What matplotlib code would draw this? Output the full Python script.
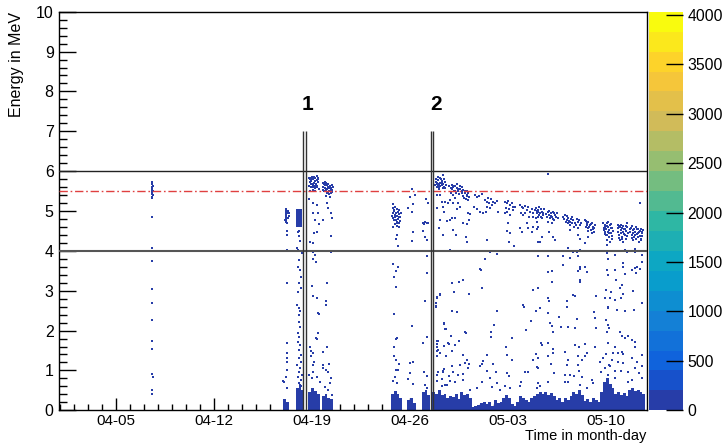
import matplotlib
matplotlib.use('Agg')
import matplotlib.pyplot as plt
import numpy as np
from matplotlib.colors import LinearSegmentedColormap, ListedColormap, BoundaryNorm
from matplotlib.ticker import MultipleLocator
import matplotlib.cm as cm

plt.rcParams['font.family'] = ['Liberation Sans', 'DejaVu Sans']

# time axis in days since 04-01 00:00
tick_days = [4, 11, 18, 25, 32, 39]
tick_labels = ['04-05', '04-12', '04-19', '04-26', '05-03', '05-10']

# run boundaries (double lines) and run numbers
run_lines = [17.34, 17.57, 26.48, 26.62]
run_label_t = [17.71, 26.86]
run_label_txt = ['1', '2']

cut_lo = 4.0
cut_hi = 6.0
peak_e = 5.5
zmax = 4033

# single alpha streak around 04-08
streak_pts = [(6.60, 5.73), (6.57, 5.68), (6.62, 5.64), (6.58, 5.60), (6.60, 5.57), (6.57, 5.53),
              (6.62, 5.50), (6.59, 5.47), (6.57, 5.43), (6.61, 5.40), (6.58, 5.36), (6.60, 5.33),
              (6.60, 4.86), (6.60, 4.07), (6.59, 3.75), (6.60, 3.05), (6.59, 2.70), (6.60, 2.26),
              (6.60, 1.73), (6.60, 1.55), (6.60, 0.92), (6.61, 0.84), (6.60, 0.50), (6.60, 0.42)]

# before run 1 (04-17 / 04-18)
pre1_pts = [(16.12, 5.04), (16.14, 4.98), (16.12, 4.93), (16.17, 4.86), (16.14, 4.79), (16.12, 4.73),
            (16.19, 4.69), (16.31, 5.01), (16.33, 4.94), (16.36, 4.88), (16.24, 4.96), (16.26, 4.82),
            (16.10, 4.78), (16.19, 4.50), (16.19, 4.40), (16.19, 4.02), (16.19, 3.19), (16.19, 1.68),
            (16.19, 1.43), (16.19, 1.30), (16.24, 1.22), (16.19, 1.01), (16.14, 0.83), (16.00, 0.72),
            (16.19, 0.55), (15.95, 0.74),
            (17.10, 4.50), (17.02, 4.48), (17.10, 4.38), (17.14, 4.26), (16.95, 4.06), (17.02, 4.02),
            (17.26, 3.94), (17.10, 3.77), (17.02, 3.60), (17.14, 3.52), (17.19, 3.35), (17.10, 3.19),
            (17.21, 3.06), (17.02, 2.98), (16.95, 2.64), (17.05, 2.56), (17.14, 2.48), (17.10, 2.39),
            (17.05, 2.22), (17.14, 2.10), (16.98, 1.93), (17.10, 1.85), (17.00, 1.72), (17.14, 1.64),
            (17.05, 1.51), (17.19, 1.39), (17.10, 1.30), (17.24, 1.22), (16.95, 1.14), (17.14, 1.05),
            (17.05, 0.97), (17.26, 0.89), (17.00, 0.83), (17.19, 0.76), (17.05, 0.68), (17.22, 0.62)]

# run 1 (after first double line)
run1_pts = [(17.81, 5.84), (17.90, 5.82), (18.00, 5.86), (18.10, 5.80), (18.21, 5.84), (18.33, 5.78),
            (18.45, 5.82), (17.86, 5.74), (17.98, 5.69), (18.14, 5.71), (18.29, 5.68), (18.40, 5.73),
            (17.81, 5.63), (17.95, 5.59), (18.10, 5.61), (18.24, 5.57), (18.38, 5.63), (18.05, 5.53),
            (17.86, 5.51), (18.19, 5.49), (18.48, 5.54), (17.90, 5.78), (18.05, 5.65), (18.33, 5.88),
            (17.85, 5.80), (17.95, 5.75), (18.15, 5.85), (18.25, 5.75), (18.40, 5.80), (18.35, 5.60),
            (18.00, 5.60), (18.20, 5.64), (17.92, 5.68),
            (18.76, 5.71), (18.86, 5.68), (18.95, 5.73), (19.05, 5.65), (19.17, 5.69), (19.29, 5.63),
            (19.40, 5.66), (18.81, 5.59), (18.93, 5.57), (19.10, 5.54), (19.24, 5.57), (19.38, 5.53),
            (19.48, 5.59), (18.88, 5.49), (19.05, 5.46), (19.19, 5.43), (19.33, 5.44), (19.00, 5.38),
            (19.29, 5.36), (19.43, 5.48), (19.14, 5.61), (18.81, 5.53),
            (18.90, 5.65), (19.00, 5.70), (19.10, 5.66), (19.22, 5.60), (19.35, 5.58), (19.45, 5.52),
            (18.98, 5.52), (19.15, 5.48), (19.25, 5.50),
            (18.10, 5.19), (18.33, 5.15), (18.05, 4.94), (18.45, 4.96), (18.21, 4.78), (18.50, 4.67),
            (18.81, 4.78), (19.05, 5.19), (19.17, 5.07), (19.33, 4.94), (19.40, 4.82), (18.33, 4.48),
            (18.14, 4.44), (17.86, 4.23), (18.05, 4.19), (19.36, 4.37), (19.36, 3.98), (18.10, 3.98),
            (18.21, 3.90), (18.10, 3.79), (18.26, 3.71), (17.98, 3.12), (19.10, 3.19), (17.76, 5.29),
            (18.05, 2.87), (18.38, 2.81), (19.00, 2.75), (19.00, 2.64), (18.40, 2.43), (18.50, 2.42),
            (18.45, 1.93), (18.29, 1.81), (18.38, 1.78), (17.86, 1.60), (17.90, 1.50), (18.81, 1.47),
            (19.05, 1.60), (18.10, 1.43), (17.90, 1.35), (18.14, 1.22), (18.05, 1.14), (18.81, 1.14),
            (19.24, 1.16), (18.81, 1.05), (19.00, 1.01), (19.17, 0.97), (18.10, 0.97), (17.81, 0.89),
            (17.98, 0.80), (19.36, 0.80), (19.29, 0.68), (18.93, 0.59), (19.17, 0.51), (19.40, 0.38),
            (18.33, 0.84), (18.57, 0.72)]

# short runs 04-24 .. 04-26
mid_pts = [(23.76, 5.07), (23.85, 5.03), (23.95, 5.09), (24.04, 5.04), (24.14, 4.98), (24.24, 5.03),
           (23.81, 4.94), (23.90, 4.90), (24.00, 4.96), (24.09, 4.88), (24.19, 4.93), (24.28, 4.86),
           (23.76, 4.82), (23.85, 4.78), (23.95, 4.84), (24.04, 4.73), (24.14, 4.79), (24.24, 4.69),
           (23.90, 4.67), (24.09, 4.62), (23.81, 4.61), (24.19, 4.59), (24.00, 4.78), (24.28, 4.76),
           (23.71, 4.88), (24.33, 4.94), (23.88, 5.00), (24.10, 4.70), (23.98, 4.88), (24.20, 4.84),
           (23.76, 5.17), (24.09, 4.40), (24.02, 4.30), (24.12, 4.12), (23.76, 3.67), (24.12, 3.60),
           (24.02, 3.50), (23.85, 3.34), (24.02, 3.10), (23.85, 2.42), (24.09, 1.82), (24.00, 1.78),
           (23.85, 1.60), (23.88, 1.35), (24.02, 1.25), (24.24, 1.16), (24.00, 1.01), (24.14, 1.01),
           (23.93, 0.83), (23.78, 0.74), (24.04, 0.69),
           (24.88, 5.07), (25.19, 5.18), (25.14, 4.98), (25.00, 5.36), (25.35, 5.40), (25.19, 4.48),
           (25.14, 4.26), (25.12, 5.54), (25.16, 2.12), (25.00, 1.18), (25.24, 1.20), (25.00, 0.94),
           (24.88, 0.78), (25.19, 0.65),
           (25.95, 4.69), (26.07, 4.73), (26.19, 4.71), (26.31, 4.69), (26.14, 5.29), (26.28, 5.21),
           (25.95, 4.51), (26.07, 4.36), (26.24, 4.27), (26.21, 3.87), (26.24, 3.45), (26.02, 4.67),
           (26.09, 2.74), (26.24, 1.85), (25.95, 1.68), (26.00, 0.97), (26.19, 0.86), (26.07, 0.64),
           (26.24, 0.55)]

# decaying peak after run 2
band_pts = [(27.38, 5.90), (26.86, 5.74), (26.95, 5.68), (27.03, 5.78), (27.14, 5.71), (27.26, 5.65),
            (26.91, 5.61), (27.10, 5.59), (27.38, 5.69), (27.50, 5.74), (27.43, 5.61), (27.57, 5.65),
            (27.22, 5.80), (27.33, 5.57), (26.79, 5.65), (27.03, 5.65), (26.91, 5.71), (27.14, 5.63),
            (27.26, 5.76), (27.50, 5.57), (27.10, 5.69),
            (26.85, 5.80), (26.98, 5.85), (27.18, 5.84), (27.30, 5.70), (27.45, 5.80), (27.05, 5.55),
            (27.81, 5.63), (27.91, 5.57), (27.98, 5.65), (28.10, 5.59), (28.21, 5.63), (28.33, 5.57),
            (28.38, 5.69), (28.45, 5.51), (28.57, 5.54), (28.69, 5.49), (28.81, 5.53), (28.93, 5.44),
            (29.05, 5.40), (29.17, 5.46), (29.24, 5.36), (28.14, 5.51), (28.29, 5.44), (28.53, 5.43),
            (28.76, 5.38), (29.00, 5.29), (27.91, 5.46), (28.05, 5.40), (29.10, 5.51), (28.69, 5.61),
            (28.86, 5.32), (29.17, 5.28),
            (28.00, 5.55), (28.15, 5.62), (28.40, 5.55), (28.60, 5.62), (28.75, 5.45), (28.95, 5.50),
            (29.10, 5.38), (28.25, 5.50),
            (26.91, 5.40), (27.14, 5.40), (27.26, 5.23), (27.50, 5.23), (27.38, 5.09), (27.43, 4.98),
            (26.95, 5.07), (27.74, 5.19), (27.86, 5.28), (28.10, 5.19), (28.21, 5.32), (28.45, 5.19),
            (28.57, 5.11), (28.33, 5.04), (27.98, 4.83), (28.21, 4.83), (27.86, 4.78), (27.62, 4.76),
            (27.14, 4.78), (27.10, 4.57), (27.38, 4.40), (28.10, 4.52), (28.29, 4.40), (28.81, 4.71),
            (29.05, 4.67), (29.24, 4.78), (29.29, 4.93), (29.17, 4.94), (29.00, 4.36), (29.05, 4.23),
            (27.86, 4.01),
            (29.64, 5.40), (29.76, 5.36), (29.95, 5.38), (30.12, 5.43), (29.57, 5.09), (29.76, 5.04),
            (30.36, 5.28), (30.48, 5.23), (30.60, 5.32), (30.67, 5.19), (30.76, 5.29), (30.83, 5.15),
            (30.95, 5.23), (31.07, 5.19), (31.19, 5.26), (30.52, 5.11), (30.71, 5.07), (30.43, 4.98),
            (30.24, 4.94), (30.00, 4.98), (31.31, 4.98),
            (31.79, 5.23), (31.91, 5.19), (32.02, 5.26), (32.14, 5.15), (32.26, 5.21), (32.38, 5.11),
            (31.86, 5.07), (32.10, 5.04), (31.95, 4.98), (32.33, 5.03), (32.50, 5.09), (31.79, 4.94),
            (32.14, 4.90),
            (32.86, 5.15), (32.98, 5.11), (33.10, 5.07), (33.21, 5.13), (33.33, 5.03), (33.45, 5.09),
            (33.57, 4.98), (33.69, 5.04), (33.81, 4.96), (33.93, 5.03), (34.05, 4.94), (34.17, 4.98),
            (32.91, 4.94), (33.10, 4.90), (33.52, 4.86), (33.81, 4.86), (34.00, 4.82), (34.24, 4.90),
            (33.21, 4.96),
            (32.02, 4.69), (31.91, 4.50), (32.14, 4.44), (32.86, 4.57), (32.98, 4.48), (33.33, 4.69),
            (33.45, 4.57), (33.69, 4.48), (33.81, 4.61), (34.05, 4.54), (34.17, 4.23), (32.10, 4.23),
            (32.43, 4.11), (30.52, 4.27), (30.36, 3.79), (31.19, 3.92), (30.00, 3.54), (30.71, 3.98),
            (33.98, 5.07), (34.05, 4.98), (34.17, 5.03), (34.29, 4.94), (34.41, 4.98), (34.53, 4.90),
            (34.12, 4.86), (34.36, 4.86), (34.60, 5.04), (34.22, 5.11), (34.45, 4.82), (34.83, 4.98),
            (34.93, 4.90), (35.07, 4.94), (35.17, 4.86), (35.24, 4.98), (35.36, 4.90), (35.48, 4.94),
            (35.00, 4.82), (35.31, 4.78), (35.55, 4.82), (34.88, 4.73), (35.12, 4.69),
            (34.10, 5.00), (34.25, 4.90), (34.35, 5.05), (34.50, 4.95), (34.70, 4.92), (34.95, 5.00),
            (35.10, 4.88), (35.20, 4.80), (35.40, 4.85), (35.30, 4.95), (34.80, 4.85),
            (35.95, 4.86), (36.07, 4.90), (36.19, 4.78), (36.31, 4.82), (36.43, 4.73), (36.55, 4.86),
            (36.67, 4.78), (36.79, 4.69), (36.90, 4.79), (37.02, 4.73), (37.14, 4.65), (36.74, 4.61),
            (36.98, 4.57), (36.31, 4.69), (36.12, 4.73),
            (36.00, 4.80), (36.20, 4.88), (36.38, 4.76), (36.50, 4.79), (36.60, 4.70), (36.85, 4.66),
            (37.08, 4.78), (37.20, 4.70), (36.45, 4.64), (37.60, 4.75), (37.80, 4.60), (37.90, 4.68),
            (38.05, 4.55), (38.15, 4.58), (37.65, 4.64), (37.75, 4.50),
            (37.50, 4.78), (37.62, 4.69), (37.74, 4.73), (37.86, 4.65), (37.98, 4.71), (38.10, 4.61),
            (38.21, 4.65), (37.69, 4.57), (37.93, 4.52), (38.17, 4.48), (37.55, 4.61), (38.02, 4.44),
            (38.81, 4.69), (38.93, 4.65), (39.05, 4.71), (39.17, 4.61), (39.29, 4.65), (39.40, 4.57),
            (38.88, 4.52), (39.12, 4.48), (39.36, 4.44), (38.98, 4.40), (39.21, 4.36), (39.45, 4.31),
            (39.05, 4.27), (39.29, 4.23), (38.93, 4.61), (39.17, 4.73),
            (38.85, 4.58), (38.95, 4.48), (39.02, 4.55), (39.10, 4.40), (39.20, 4.52), (39.25, 4.45),
            (39.33, 4.58), (39.40, 4.38), (39.48, 4.50), (38.90, 4.42), (39.08, 4.63), (39.35, 4.68),
            (39.83, 4.65), (40.00, 4.61), (40.12, 4.57), (40.24, 4.62), (40.36, 4.54), (40.48, 4.59),
            (39.88, 4.48), (40.07, 4.44), (40.31, 4.42), (40.55, 4.46), (40.17, 4.36), (40.00, 4.27),
            (40.40, 4.31), (40.24, 4.23), (39.88, 4.57), (40.48, 4.69),
            (39.90, 4.62), (39.95, 4.40), (40.05, 4.52), (40.10, 4.66), (40.20, 4.48), (40.28, 4.55),
            (40.35, 4.40), (40.45, 4.50), (40.52, 4.38), (39.92, 4.33), (40.15, 4.30), (40.42, 4.62),
            (40.79, 4.57), (40.95, 4.52), (41.07, 4.48), (41.19, 4.54), (41.31, 4.46), (41.43, 4.51),
            (41.55, 4.44), (40.83, 4.40), (41.02, 4.36), (41.26, 4.34), (41.50, 4.31), (40.95, 4.27),
            (41.36, 4.23), (41.60, 4.37), (40.71, 4.48),
            (40.75, 4.55), (40.85, 4.62), (40.90, 4.45), (41.00, 4.55), (41.10, 4.40), (41.15, 4.60),
            (41.22, 4.42), (41.28, 4.56), (41.38, 4.48), (41.45, 4.38), (41.52, 4.56), (41.58, 4.47),
            (41.65, 4.52), (40.88, 4.33), (41.18, 4.30), (41.47, 4.27),
            (34.83, 5.93), (41.43, 5.19), (34.05, 4.73), (34.17, 4.61), (34.41, 4.36), (34.29, 4.23),
            (35.24, 4.36), (35.36, 4.27), (34.93, 4.48), (36.43, 4.52), (37.02, 4.40), (37.14, 4.31),
            (37.50, 4.19), (37.74, 4.36), (36.67, 3.98), (36.90, 3.98), (37.14, 4.02), (36.31, 4.06),
            (35.95, 3.87), (36.43, 3.81), (37.02, 3.86), (34.88, 3.86), (34.17, 3.86), (39.05, 4.15),
            (39.05, 3.94), (39.17, 3.79), (39.64, 3.90), (40.36, 4.02), (40.48, 3.98), (40.24, 3.69),
            (41.07, 3.96), (41.55, 3.90), (41.55, 3.73), (41.19, 3.60), (37.14, 3.60), (41.07, 4.04)]

# sparse low-energy events after run 2
sparse_pts = [(30.07, 3.52), (30.12, 3.08), (27.98, 3.19), (28.53, 3.23), (28.76, 3.27), (28.17, 2.98),
              (29.24, 2.92), (27.14, 2.91), (26.91, 2.85), (26.86, 2.68), (26.86, 2.60), (31.19, 2.50),
              (27.98, 2.48), (28.38, 2.46), (27.43, 2.17), (31.00, 2.14), (27.55, 2.03), (28.93, 1.97),
              (29.00, 1.95), (30.79, 1.96), (30.76, 1.84), (27.93, 1.87), (26.95, 1.74), (28.48, 1.74),
              (27.43, 1.61), (27.79, 1.67), (28.24, 1.64), (26.95, 1.60), (26.91, 1.49), (28.00, 1.50),
              (27.55, 1.36), (28.76, 1.39), (30.48, 1.39), (29.10, 1.26), (30.24, 1.24), (30.17, 1.16),
              (30.95, 1.15), (31.95, 1.39), (32.26, 1.26), (31.95, 0.93), (32.10, 0.86), (31.12, 0.97),
              (30.48, 0.99), (27.00, 0.97), (27.43, 1.04), (27.38, 0.95), (27.98, 1.10), (28.10, 0.95),
              (27.76, 0.86), (28.57, 1.14), (28.93, 1.18), (29.24, 1.15), (29.17, 1.05), (28.81, 0.90),
              (28.41, 0.89), (26.95, 0.74), (27.86, 0.74), (27.26, 0.62), (27.62, 0.64), (28.24, 0.70),
              (28.76, 0.76), (30.12, 0.72), (30.71, 0.80), (31.24, 0.68), (31.79, 0.62), (32.14, 0.55),
              (32.91, 0.72), (32.86, 0.62), (33.24, 0.95), (33.45, 0.95), (33.81, 1.26), (34.17, 1.30),
              (33.05, 2.64), (33.17, 2.60), (33.64, 2.25), (33.29, 2.01), (34.00, 2.48), (33.76, 3.03),
              (34.17, 3.06), (34.29, 2.56), (32.26, 1.81), (31.86, 1.60), (30.00, 1.12), (30.83, 0.59),
              (29.76, 0.55), (29.29, 0.51), (31.43, 0.51),
              (35.12, 3.50), (34.88, 3.48), (37.14, 3.54), (37.02, 3.49), (37.50, 3.60), (37.62, 3.48),
              (35.95, 3.64), (35.12, 3.23), (37.14, 3.27), (37.14, 3.21), (34.12, 3.06), (34.88, 2.81),
              (34.93, 2.75), (36.19, 2.73), (36.79, 2.88), (36.67, 2.89), (38.26, 2.88), (39.05, 3.52),
              (39.12, 3.39), (39.64, 3.52), (39.69, 3.27), (40.24, 3.60), (40.36, 3.41), (40.17, 3.14),
              (40.00, 3.06), (40.83, 3.52), (41.07, 3.58), (41.12, 3.44), (41.43, 3.54), (38.98, 3.02),
              (39.36, 2.98), (38.93, 2.81), (39.29, 2.81), (39.64, 2.77), (40.24, 2.93), (40.07, 2.83),
              (40.95, 2.99), (39.17, 2.60), (39.12, 2.56), (39.76, 2.52), (40.36, 2.49), (41.02, 2.52),
              (41.55, 2.68), (34.29, 2.57), (34.02, 2.48), (34.83, 2.43), (35.64, 2.33), (36.19, 2.60),
              (36.90, 2.28), (38.17, 2.46), (38.21, 2.31), (36.31, 2.10), (35.79, 2.10), (35.00, 2.18),
              (35.12, 2.12), (35.24, 1.97), (36.79, 2.07), (38.26, 2.06), (38.98, 2.27), (39.12, 2.14),
              (39.21, 2.06), (39.05, 1.97), (40.00, 1.97), (40.17, 1.87), (40.36, 1.82), (40.60, 1.87),
              (40.12, 1.47), (39.83, 1.43), (40.24, 1.40), (40.83, 1.76), (41.07, 1.72), (41.07, 1.60),
              (36.79, 1.64), (37.07, 1.60), (37.50, 1.66), (38.21, 1.60), (39.12, 1.68), (39.64, 1.60),
              (39.00, 1.40), (38.81, 1.30), (39.40, 1.26), (39.52, 1.45), (39.21, 1.14), (39.88, 1.22),
              (40.24, 1.18), (40.83, 1.30), (41.19, 1.22), (41.55, 1.39), (40.60, 0.95), (40.07, 0.99),
              (34.36, 1.68), (34.45, 1.64), (34.88, 1.68), (35.24, 1.54), (35.24, 1.43), (36.07, 1.47),
              (36.98, 1.35), (37.26, 1.26), (37.50, 1.35), (37.62, 1.43), (36.26, 1.26), (34.83, 1.37),
              (35.07, 1.15), (34.12, 1.32), (33.98, 1.40), (34.05, 1.09), (34.17, 1.05), (36.19, 1.14),
              (37.02, 1.14), (37.10, 0.99), (36.43, 0.89), (36.74, 0.86), (35.31, 0.93), (36.07, 0.89),
              (37.26, 0.84), (38.57, 1.22), (38.64, 0.97), (38.93, 1.05), (39.29, 1.10), (39.64, 0.99),
              (39.12, 0.89), (39.64, 0.80), (41.07, 1.05), (41.36, 0.93), (41.55, 1.10), (41.60, 0.80),
              (40.83, 0.76), (40.60, 0.70), (36.07, 0.72), (36.31, 0.70), (37.98, 0.76), (38.10, 0.68),
              (37.14, 0.64), (37.62, 0.55), (34.83, 0.72), (34.17, 0.68), (34.29, 0.62), (34.05, 0.55),
              (27.14, 2.89), (26.90, 2.83), (26.86, 2.70), (26.86, 2.62), (27.43, 2.18), (27.50, 2.03),
              (27.02, 1.75), (26.90, 1.66), (27.02, 1.51), (27.14, 1.43), (26.90, 1.35), (27.57, 1.36),
              (27.33, 0.99), (26.90, 0.89), (27.26, 0.78), (27.50, 0.64), (27.74, 1.68)]

# dense low-energy floor (noise), time of column and upper edge in MeV
floor_t = [16.05, 16.25, 16.95, 17.15, 17.30, 17.85, 18.05, 18.25, 18.45, 18.80, 19.00, 19.20, 19.40,
           23.75, 23.95, 24.15, 24.30, 24.90, 25.10, 25.30, 25.95, 26.15, 26.35,
           26.70, 26.90, 27.10, 27.30, 27.50, 27.70, 27.90, 28.10, 28.30, 28.50, 28.70, 28.90, 29.10,
           29.30, 29.50, 29.70, 29.90, 30.10, 30.30, 30.50, 30.70, 30.90, 31.10, 31.30, 31.50, 31.70,
           31.90, 32.10, 32.30, 32.50, 32.70, 32.90, 33.10, 33.30, 33.50, 33.70, 33.90, 34.10, 34.30,
           34.50, 34.70, 34.90, 35.10, 35.30, 35.50, 35.70, 35.90, 36.10, 36.30, 36.50, 36.70, 36.90,
           37.10, 37.30, 37.50, 37.70, 37.90, 38.10, 38.30, 38.50, 38.70, 38.90, 39.10, 39.30, 39.50,
           39.70, 39.90, 40.10, 40.30, 40.50, 40.70, 40.90, 41.10, 41.30, 41.50, 41.70]
floor_top = [0.28, 0.22, 0.55, 0.65, 0.50, 0.45, 0.55, 0.48, 0.40, 0.35, 0.40, 0.32, 0.28,
             0.40, 0.48, 0.42, 0.30, 0.25, 0.30, 0.18, 0.45, 0.50, 0.38,
             0.45, 0.40, 0.50, 0.38, 0.42, 0.30, 0.36, 0.33, 0.40, 0.28, 0.45, 0.38, 0.42,
             0.30, 0.08, 0.12, 0.14, 0.18, 0.22, 0.15, 0.20, 0.12, 0.25, 0.18, 0.22, 0.30,
             0.38, 0.30, 0.16, 0.12, 0.20, 0.36, 0.30, 0.26, 0.22, 0.30, 0.35, 0.42, 0.47,
             0.40, 0.45, 0.38, 0.44, 0.35, 0.25, 0.30, 0.22, 0.32, 0.26, 0.35, 0.45, 0.40,
             0.50, 0.38, 0.24, 0.28, 0.20, 0.30, 0.26, 0.22, 0.45, 0.70, 0.80, 0.65, 0.55,
             0.40, 0.46, 0.38, 0.44, 0.35, 0.50, 0.55, 0.48, 0.52, 0.45, 0.40]

# saturated clusters just before run 1
block_t0 = [16.88, 16.10]
block_t1 = [17.30, 16.22]
block_lo = [4.61, 4.72]
block_hi = [5.04, 5.04]

# ROOT kBird palette with 20 contour levels
bird_r = [0.2082, 0.0592, 0.0780, 0.0232, 0.1802, 0.5301, 0.8186, 0.9956, 0.9764]
bird_g = [0.1664, 0.3599, 0.5041, 0.6419, 0.7178, 0.7492, 0.7328, 0.7862, 0.9832]
bird_b = [0.5293, 0.8684, 0.8385, 0.7914, 0.6425, 0.4662, 0.3499, 0.1968, 0.0539]
stops = np.linspace(0, 1, 9)
bird = LinearSegmentedColormap.from_list(
    'bird', list(zip(stops, zip(bird_r, bird_g, bird_b))), N=255)
levels = 20
level_cols = [bird(min((i + 0.99) / levels, 1.0)) for i in range(levels)]
cmap = ListedColormap(level_cols)
norm = BoundaryNorm(np.linspace(0, zmax, levels + 1), levels)
dot_col = level_cols[0]

fig = plt.figure(figsize=(7.24, 4.44), dpi=100)
ax = fig.add_axes([0.0819, 0.0759, 0.8113, 0.8977])

ax.bar(floor_t, floor_top, width=0.2, color=dot_col, linewidth=0, zorder=2)
for t0, t1, lo, hi in zip(block_t0, block_t1, block_lo, block_hi):
    ax.bar((t0 + t1) / 2, hi - lo, bottom=lo, width=t1 - t0, color=dot_col, linewidth=0, zorder=2)

for pts in [streak_pts, pre1_pts, run1_pts, mid_pts, band_pts, sparse_pts]:
    t, e = zip(*pts)
    ax.scatter(t, e, s=3.2, marker='s', color=dot_col, linewidths=0, zorder=3)

ax.axhline(cut_hi, color='#222222', lw=1.0, zorder=4)
ax.axhline(cut_lo, color='#555555', lw=1.5, zorder=4)
ax.axhline(peak_e, color='#e04040', lw=1.0, ls=(0, (6, 2, 1.2, 2)), zorder=4)
ax.vlines(run_lines, 0, 7, color='#333333', lw=1.0, zorder=4)
for t, s in zip(run_label_t, run_label_txt):
    ax.text(t, 7.68, s, ha='center', va='center', fontsize=15, fontweight='bold')

ax.set_xlim(-0.05, 41.91)
ax.set_ylim(0, 10)
ax.set_xticks(tick_days)
ax.set_xticklabels(tick_labels)
ax.xaxis.set_minor_locator(MultipleLocator(1))
ax.yaxis.set_major_locator(MultipleLocator(1))
ax.yaxis.set_minor_locator(MultipleLocator(0.2))
ax.tick_params(axis='both', which='both', direction='in', labelsize=11.5, width=1, colors='black')
ax.tick_params(axis='x', which='major', length=8.6, pad=2.5, labelsize=11)
ax.tick_params(axis='x', which='minor', length=4.2)
ax.tick_params(axis='y', which='major', length=12.5, pad=4)
ax.tick_params(axis='y', which='minor', length=6)
for sp in ax.spines.values():
    sp.set_linewidth(1.0)

ax.set_ylabel('Energy in MeV', fontsize=11.5, loc='top')
ax.yaxis.set_label_coords(-0.060, 1.0)
ax.set_xlabel('Time in month-day', fontsize=10.5, loc='right')
ax.xaxis.set_label_coords(1.0, -0.048)

cax = fig.add_axes([0.8968, 0.0759, 0.047, 0.8977])
cb = fig.colorbar(cm.ScalarMappable(norm=norm, cmap=cmap), cax=cax,
                  ticks=np.arange(0, 4001, 500))
cb.outline.set_visible(False)
cax.tick_params(direction='in', length=12, width=1, labelsize=11.3, pad=3)
cax.minorticks_off()

fig.savefig('out.png', dpi=100)
